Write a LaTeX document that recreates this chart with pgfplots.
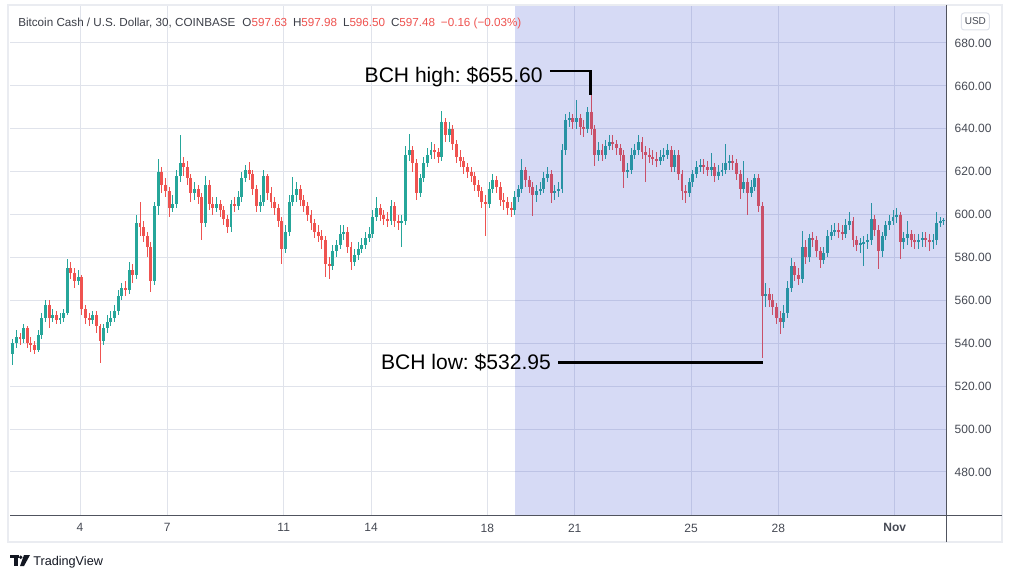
\documentclass[border=0pt]{standalone}
\usepackage{fontspec}
\setmainfont{Liberation Sans}
\usepackage{pgfplots}
\usepackage{pgfplotstable}
\pgfplotsset{compat=1.18}
\frenchspacing
\definecolor{upc}{RGB}{38,166,154}
\definecolor{dnc}{RGB}{239,83,80}
\definecolor{gridc}{RGB}{224,227,235}
\definecolor{shadec}{RGB}{50,70,205}
\definecolor{axc}{RGB}{80,83,94}
\definecolor{txt}{RGB}{70,74,84}
\definecolor{ttl}{RGB}{60,63,72}
\definecolor{framec}{RGB}{234,236,241}
\definecolor{tvc}{RGB}{19,23,34}

\pgfplotstableread{
o h l c
535 542 530 540
540 546 538 543
543 545 539 542
542 549 540 547
547 548 538 540
540 543 536 539
539 541 535 537
537 546 536 544
544 554 542 552
552 560 550 558
558 560 547 552
552 556 550 553
553 555 549 551
551 554 549 552
552 556 550 554
554 579.5 553 575
575 578 570 573
573 575 566 569
569 574 567 571
571 572 553 556
556 558 549 552
552 554 548 551
551 555 549 553
553 555 545 548
548 549 531 541
541 549 539 547
547 553 545 550
550 555 548 552
552 558 550 555
555 565 553 562
562 568 560 566
566 569 562 565
565 578 563 574
574 577 568 572
572 600 570 596
596 606 590 594
594 597 587 590
590 592 580 585
585 587 564 569
569 606 567 604
604 625.7 600 620
620 622 610 614
614 617 608 611
611 613 599 603
603 609 601 605
605 621 603 618
618 637 615 624
624 627 618 622
622 625 614 617
617 619 606 610
610 615 607 612
612 614 605 608
608 610 588 596
596 618 594 614
614 616 602 605
605 608 600 603
603 608 601 605
605 607 599 602
602 604 595 598
598 600 591.6 594
594 607 592 605
605 608 601 604
604 611 602 608
608 620 606 617
617 623 615 621
621 624.5 616 619
619 621 609 612
612 614 601 604
604 609 601 606
606 621 604 618
618 619 607 610
610 613 603 606
606 608 600 603
603 605 594 597
597 599 577 584
584 595 582 592
592 609 590 606
606 617.7 604 609
609 615 606 612
612 614 604 607
607 609 601 604
604 606 597 600
600 602 593 596
596 598 589 592
592 595 587 590
590 593 584 588
588 590 571 577
577 580 570 576
576 586 574 583
583 588 580 586
586 595 584 591
591 595 588 592
592 594 582 585
585 587 574 578
578 584 576 581
581 587 579 584
584 589 582 586
586 592 584 589
589 594 587 591
591 602 589 599
599 608 597 603
603 605 597 600
600 602 595 598
598 601 594 597
597 607 595 604
604 606 594 597
597 600 593 596
596 600 585 597
597 632 595 628
628 637.4 625 630
630 632 620 624
624 626 607 610
610 619 608 617
617 627 615 624
624 631 622 628
628 634 626 630
630 633 626 629
629 631 624 627
627 648.5 625 643
643 645 634 637
637 643 634 640
640 642 630 633
633 635 624 627
627 630 622 625
625 627 619 622
622 624 617 620
620 622 615 618
618 620 611 614
614 616 608 611
611 613 603 606
606 609 590 605
605 615 603 612
612 619 610 616
616 618 610 613
613 615 604 607
607 610 602 606
606 608 600 603
603 606 599 602
602 611 600 608
608 614 606 612
612 625.7 610 621
621 622 613 616
616 618 610 613
613 615 599.4 609
609 614 606 611
611 615 609 612
612 620 610 617
617 622 615 619
619 621 605.6 610
610 614 607 611
611 615 608 612
612 633 610 630
630 647 628 644
644 648 641 645
645 647 640 643
643 653.6 640 645
645 647 637 641
641 644 636 640
640 650 638 648
648 655.6 637 640
640 642 622.6 628
628 634 625 630
630 633 625 628
628 635 626 632
632 637 630 634
634 637 630 633
633 635 628 631
631 633 625 628
628 630 612.6 620
620 624 617 621
621 631 619 628
628 633 626 630
630 637 628 634
634 636 626 629
629 632 615 628
628 631 624 627
627 630 623 626
626 629 622 625
625 630 623 627
627 631 625 628
628 633 626 630
630 632 620 622
622 630 620 628
628 630 616 619
619 621 607 611
611 614 605.6 610
610 617 608 615
615 621 613 619
619 625 617 622
622 626 620 623
623 626 619 622
622 625 618 621
621 628.8 618 622
622 624 615 618
618 623 616 620
620 624 618 621
621 632.7 619 624
624 628 621 625
625 628 621 624
624 626 616 619
619 621 607.4 612
612 625 610 615
615 617 600 610
610 616 608 613
613 619 611 617
617 619 601 604
604 606 532.95 562
562 568 557 563
563 566 557 560
560 563 553 557
557 559 549 552
552 555 544.3 550
550 558 547 554
554 569 552 566
566 579.7 564 576
576 578 569 572
572 575 567 570
570 592.4 568 585
585 588 577 580
580 591 578 589
589 592 585 588
588 590 580 583
583 585 575 579
579 585 577 582
582 593 580 590
590 595 588 592
592 596 590 593
593 596 589 592
592 595 588 591
591 598 589 595
595 601.4 593 597
597 599 585 588
588 590 583 586
586 589 582 586.5
586.5 590 576 587
587 591 584 588
588 605.3 586 598
598 600 590 593
593 595 574.6 583
583 592 580 590
590 597 588 595
595 600 593 597
597 602 595 599
599 603 596 600
600 601 579.2 587
587 592 584 589
589 597 586 591
591 593 585 588
588 591 584 587
587 591 584 588
588 592 585 589
589 592 585 588
588 591 583 587
587 591 584 588
588 601.4 586 596
596 599 594 597
597 598.5 595 597.5
}\candles

\pgfplotsset{
  candle/.style n args={2}{draw=none, no markers, forget plot,
    error bars/.cd, y dir=both, y explicit, error mark=none,
    error bar style={draw=#1, solid, line width=#2, line cap=butt}},
}

\begin{document}
\begin{tikzpicture}
\fill[white] (0,0) rectangle (759pt,433.5pt);
\draw[framec, line width=1.5pt] (6pt,27pt) rectangle (751.5pt,429.75pt);
\begin{axis}[
  at={(7.5pt,47.25pt)}, anchor=south west,
  width=702pt, height=381.75pt, scale only axis,
  xmin=1.594, xmax=33.76, ymin=459.95, ymax=697.25,
  axis line style={draw=none},
  tick style={draw=none},
  major tick length=0pt,
  grid=major,
  major grid style={gridc, line width=0.75pt},
  xtick={4,7,11,14,18,21,25,28,32},
  xticklabels={4,7,11,14,18,21,25,28,\textbf{Nov}},
  ytick={480,500,...,680},
  yticklabel pos=right,
  /pgf/number format/assume math mode=true,
  yticklabel={\pgfmathprintnumber[fixed,fixed zerofill,precision=2,1000 sep={}]{\tick}},
  ticklabel style={font=\fontsize{9}{10}\selectfont, text=txt},
  yticklabel style={anchor=west, xshift=3pt},
  xticklabel style={anchor=north, yshift=-3pt},
  clip mode=individual,
]
% wicks
\addplot[candle={upc}{0.7pt}]
  table[x expr={1.6875+0.125*\coordindex}, y expr={0.5*(\thisrow{h}+\thisrow{l})},
        y error expr={(\thisrow{c}>=\thisrow{o})*0.5*(\thisrow{h}-\thisrow{l})}] {\candles};
\addplot[candle={dnc}{0.7pt}]
  table[x expr={1.6875+0.125*\coordindex}, y expr={0.5*(\thisrow{h}+\thisrow{l})},
        y error expr={(\thisrow{c}<\thisrow{o})*0.5*(\thisrow{h}-\thisrow{l})}] {\candles};
% bodies
\addplot[candle={upc}{2.2pt}]
  table[x expr={1.6875+0.125*\coordindex}, y expr={0.5*(\thisrow{o}+\thisrow{c})},
        y error expr={(\thisrow{c}>=\thisrow{o})*max(0.5*abs(\thisrow{c}-\thisrow{o}),0.3)}] {\candles};
\addplot[candle={dnc}{2.2pt}]
  table[x expr={1.6875+0.125*\coordindex}, y expr={0.5*(\thisrow{o}+\thisrow{c})},
        y error expr={(\thisrow{c}<\thisrow{o})*max(0.5*abs(\thisrow{c}-\thisrow{o}),0.3)}] {\candles};
% shaded range
\fill[shadec, opacity=0.2] (axis cs:18.95,459.95) rectangle (axis cs:33.76,697.25);
% annotations
\draw[black, line width=2pt, line join=miter] (axis cs:20.15,666.95) -- (axis cs:21.55,666.95) -- (axis cs:21.55,655.6);
\node[anchor=base east, inner sep=0pt, font=\fontsize{15.8}{18}\selectfont, text=black] at (axis cs:19.91,661.7) {BCH high: \$655.60};
\draw[black, line width=2pt] (axis cs:20.43,531.1) -- (axis cs:27.47,531.1);
\node[anchor=base east, inner sep=0pt, font=\fontsize{15.8}{18}\selectfont, text=black] at (axis cs:20.19,527.9) {BCH low: \$532.95};
\end{axis}
% axis lines
\draw[axc, line width=0.75pt] (7.5pt,47.25pt) -- (751.5pt,47.25pt);
\draw[axc, line width=0.75pt] (709.5pt,27pt) -- (709.5pt,429.75pt);
% title
\node[anchor=base west, inner sep=0pt, font=\fontsize{8.75}{10}\selectfont, text=ttl] at (13.5pt,413.25pt)
 {Bitcoin Cash / U.S. Dollar, 30, COINBASE\hspace{0.6em}O\textcolor{dnc}{597.63}\hspace{0.5em}H\textcolor{dnc}{597.98}\hspace{0.5em}L\textcolor{dnc}{596.50}\hspace{0.5em}C\textcolor{dnc}{597.48}\hspace{0.5em}\textcolor{dnc}{−0.16 (−0.03\%)}};
% USD box
\draw[gridc, line width=0.75pt, rounded corners=2pt, fill=white] (721pt,411pt) rectangle (742pt,423.75pt);
\node[font=\fontsize{7.5}{8}\selectfont, text=txt, inner sep=0pt] at (731.5pt,417.4pt) {USD};
% TradingView logo
\fill[tvc] (7.5pt,17.25pt) rectangle (14.25pt,15pt);
\fill[tvc] (10.5pt,15pt) rectangle (13.5pt,9pt);
\fill[tvc] (15.6pt,15.6pt) circle (1.4pt);
\fill[tvc] (18pt,17.25pt) -- (22.5pt,17.25pt) -- (18pt,9pt) -- (15pt,9pt) -- cycle;
\node[anchor=base west, inner sep=0pt, font=\fontsize{9.5}{10}\selectfont, text=tvc] at (24.75pt,9.75pt) {TradingView};
\pgfresetboundingbox
\path (0,0) rectangle (759pt,433.5pt);
\end{tikzpicture}
\end{document}
